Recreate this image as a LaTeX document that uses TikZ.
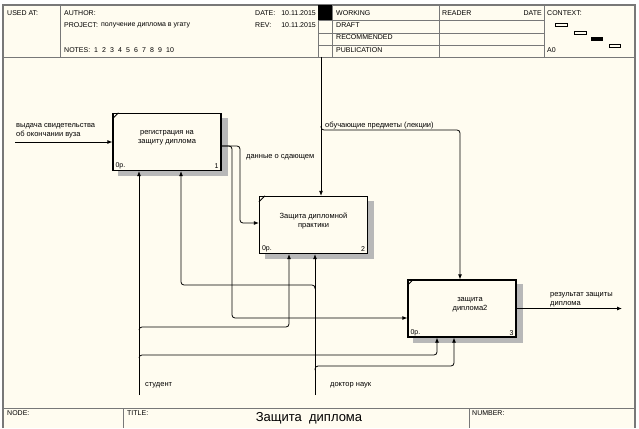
\documentclass[tikz,border=0pt]{standalone}
\usepackage{fontspec}
\setmainfont{Liberation Sans}
\usetikzlibrary{calc, arrows.meta, backgrounds}

\definecolor{paper}{RGB}{255,252,240}
\definecolor{frameline}{RGB}{120,120,120}

\tikzset{
  txt/.style={font=\fontsize{7}{9}\selectfont, inner sep=0pt, anchor=west},
  lbl/.style={font=\fontsize{7.5}{9}\selectfont, inner sep=0pt, anchor=west},
  func/.style={draw, line width=1.3pt, fill=paper, minimum width=108pt, minimum height=57pt, inner sep=0pt},
  functxt/.style={font=\fontsize{7.5}{9}\selectfont, inner sep=0pt, align=center},
  arrow/.style={draw, line width=0.8pt, rounded corners=3pt, -{Latex[length=5pt,width=4pt]}},
  rule/.style={frameline, line width=0.8pt},
}

\begin{document}
\begin{tikzpicture}[x=1pt, y=-1pt]
        \useasboundingbox (0,0) rectangle (639,428);
        % sheet
        \begin{scope}[on background layer]
            \fill[paper] (3,5) rectangle (635,428);
        \end{scope}
        \draw[rule, line width=1.2pt] (3,428) -- (3,5) -- (635,5) -- (635,428);
        % header
        \draw[rule] (3,57) -- (635,57);
        \foreach \x in {60,318,332,439,544}
            \draw[rule] (\x,5) -- (\x,57);
        \foreach \y in {20,33,45}
            \draw[rule] (318,\y) -- (544,\y);
        \fill (318,5) rectangle (332,20);
        \node[txt] (usedat) at (7,13) {USED AT:};
        \node[txt] (author) at (64,13) {AUTHOR:};
        \node[txt] (project) at (64,25) {PROJECT:};
        \node[txt] (projname) at (101,25) {получение диплома в угату};
        \node[txt] (notes) at (64,50) {NOTES:};
        \foreach \n in {1,...,10}
            \node[txt] (note\n) at (86+8*\n,50) {\n};
        \node[txt] (date) at (255,13) {DATE:};
        \node[txt, anchor=east] (dateval) at (316,13) {10.11.2015};
        \node[txt] (rev) at (255,25) {REV:};
        \node[txt, anchor=east] (revval) at (316,25) {10.11.2015};
        \foreach \s/\y in {WORKING/13, DRAFT/25, RECOMMENDED/37, PUBLICATION/50}
            \node[txt] (status\y) at (336,\y) {\s};
        \node[txt] (reader) at (442,13) {READER};
        \node[txt, anchor=east] (readerdate) at (542,13) {DATE};
        \node[txt] (context) at (547,13) {CONTEXT:};
        \node[txt] (page) at (547,50) {A0};
        \draw[line width=0.6pt] (555,23) rectangle (567,26);
        \draw[line width=0.6pt] (574,31) rectangle (586,34);
        \fill (591,37) rectangle (603,41);
        \draw[line width=0.6pt] (609,44) rectangle (620,47);
        % footer
        \draw[rule] (3,408) -- (635,408);
        \draw[rule] (123,408) -- (123,428);
        \draw[rule] (469,408) -- (469,428);
        \node[txt] (nodelbl) at (7,413) {NODE:};
        \node[txt] (titlelbl) at (127,413) {TITLE:};
        \node[txt] (numberlbl) at (472,413) {NUMBER:};
        \node[font=\fontsize{13}{15}\selectfont, inner sep=0pt] (title) at (309,418) {Защита\ \ диплома};

        % functions
        \node[func] (b1) at (167,142) {};
        \node[func] (b2) at (313.5,225) {};
        \node[func] (b3) at (462,308.5) {};
        \node[functxt] (b1txt) at ([yshift=4pt]b1.center) {регистрация на\\защиту диплома};
        \node[functxt] (b2txt) at ([yshift=4pt]b2.center) {Защита дипломной\\практики};
        \node[functxt] (b3txt) at ([shift={(8pt,4pt)}]b3.center) {защита\\диплома2};
        \foreach \b/\n in {b1/1, b2/2, b3/3} {
            \draw[line width=0.8pt] ([yshift=-6pt]\b.north west) -- ([xshift=6pt]\b.north west);
            \node[txt, anchor=south west] (\b cost) at ([shift={(3pt,2pt)}]\b.south west) {0р.};
            \node[txt, anchor=south east] (\b num) at ([shift={(-3pt,2pt)}]\b.south east) {\n};
        }
        \begin{scope}[on background layer]
            \foreach \b in {b1,b2,b3}
                \fill[black!28] ([shift={(6,5)}]\b.north west) rectangle ([shift={(6,5)}]\b.south east);
        \end{scope}

        % input
        \coordinate (in1) at (15,142);
        \draw[arrow] (in1) -- (b1.west);
        \node[lbl, anchor=south west, align=left] (in1lbl) at (16,138.5) {выдача свидетельства\\об окончании вуза};
        % box 1 output
        \coordinate (b1out) at ([yshift=-4pt]b1.east);
        \draw[arrow] (b1out) -- (240,146) -- (240,223) -- ([yshift=2pt]b2.west);
        \draw[arrow] (b1out) -- (232,146) -- (232,318) -- ([yshift=-9.5pt]b3.west);
        \node[lbl] (b1outlbl) at (246,157) {данные о сдающем};
        % control
        \coordinate (ctl) at (321,57);
        \draw[arrow] (ctl) -- (ctl |- b2.north);
        \draw[arrow] (321,126) -- (321,130) -| ([xshift=-2pt]b3.north);
        \node[lbl] (ctllbl) at (325,126) {обучающие предметы (лекции)};
        % output
        \coordinate (out3) at (622,308.5);
        \draw[arrow] (b3.east) -- (out3);
        \node[lbl, anchor=south west, align=left] (out3lbl) at (550,307.5) {результат защиты\\диплома};
        % mechanisms
        \coordinate (stud) at (139,395);
        \draw[arrow] (stud) -- (stud |- b1.south);
        \draw[arrow] (139,330) -- (139,327) -| ([xshift=-24.5pt]b2.south);
        \draw[arrow] (139,358) -- (139,355) -| ([xshift=-25pt]b3.south);
        \node[lbl] (studlbl) at (145,385) {студент};
        \coordinate (doc) at (315,395);
        \draw[arrow] (doc) -- (doc |- b2.south);
        \draw[arrow] (315,289) -- (315,285) -| ([xshift=14pt]b1.south);
        \draw[arrow] (315,370) -- (315,366) -| ([xshift=-8pt]b3.south);
        \node[lbl] (doclbl) at (330,385) {доктор наук};
    \end{tikzpicture}
\end{document}
